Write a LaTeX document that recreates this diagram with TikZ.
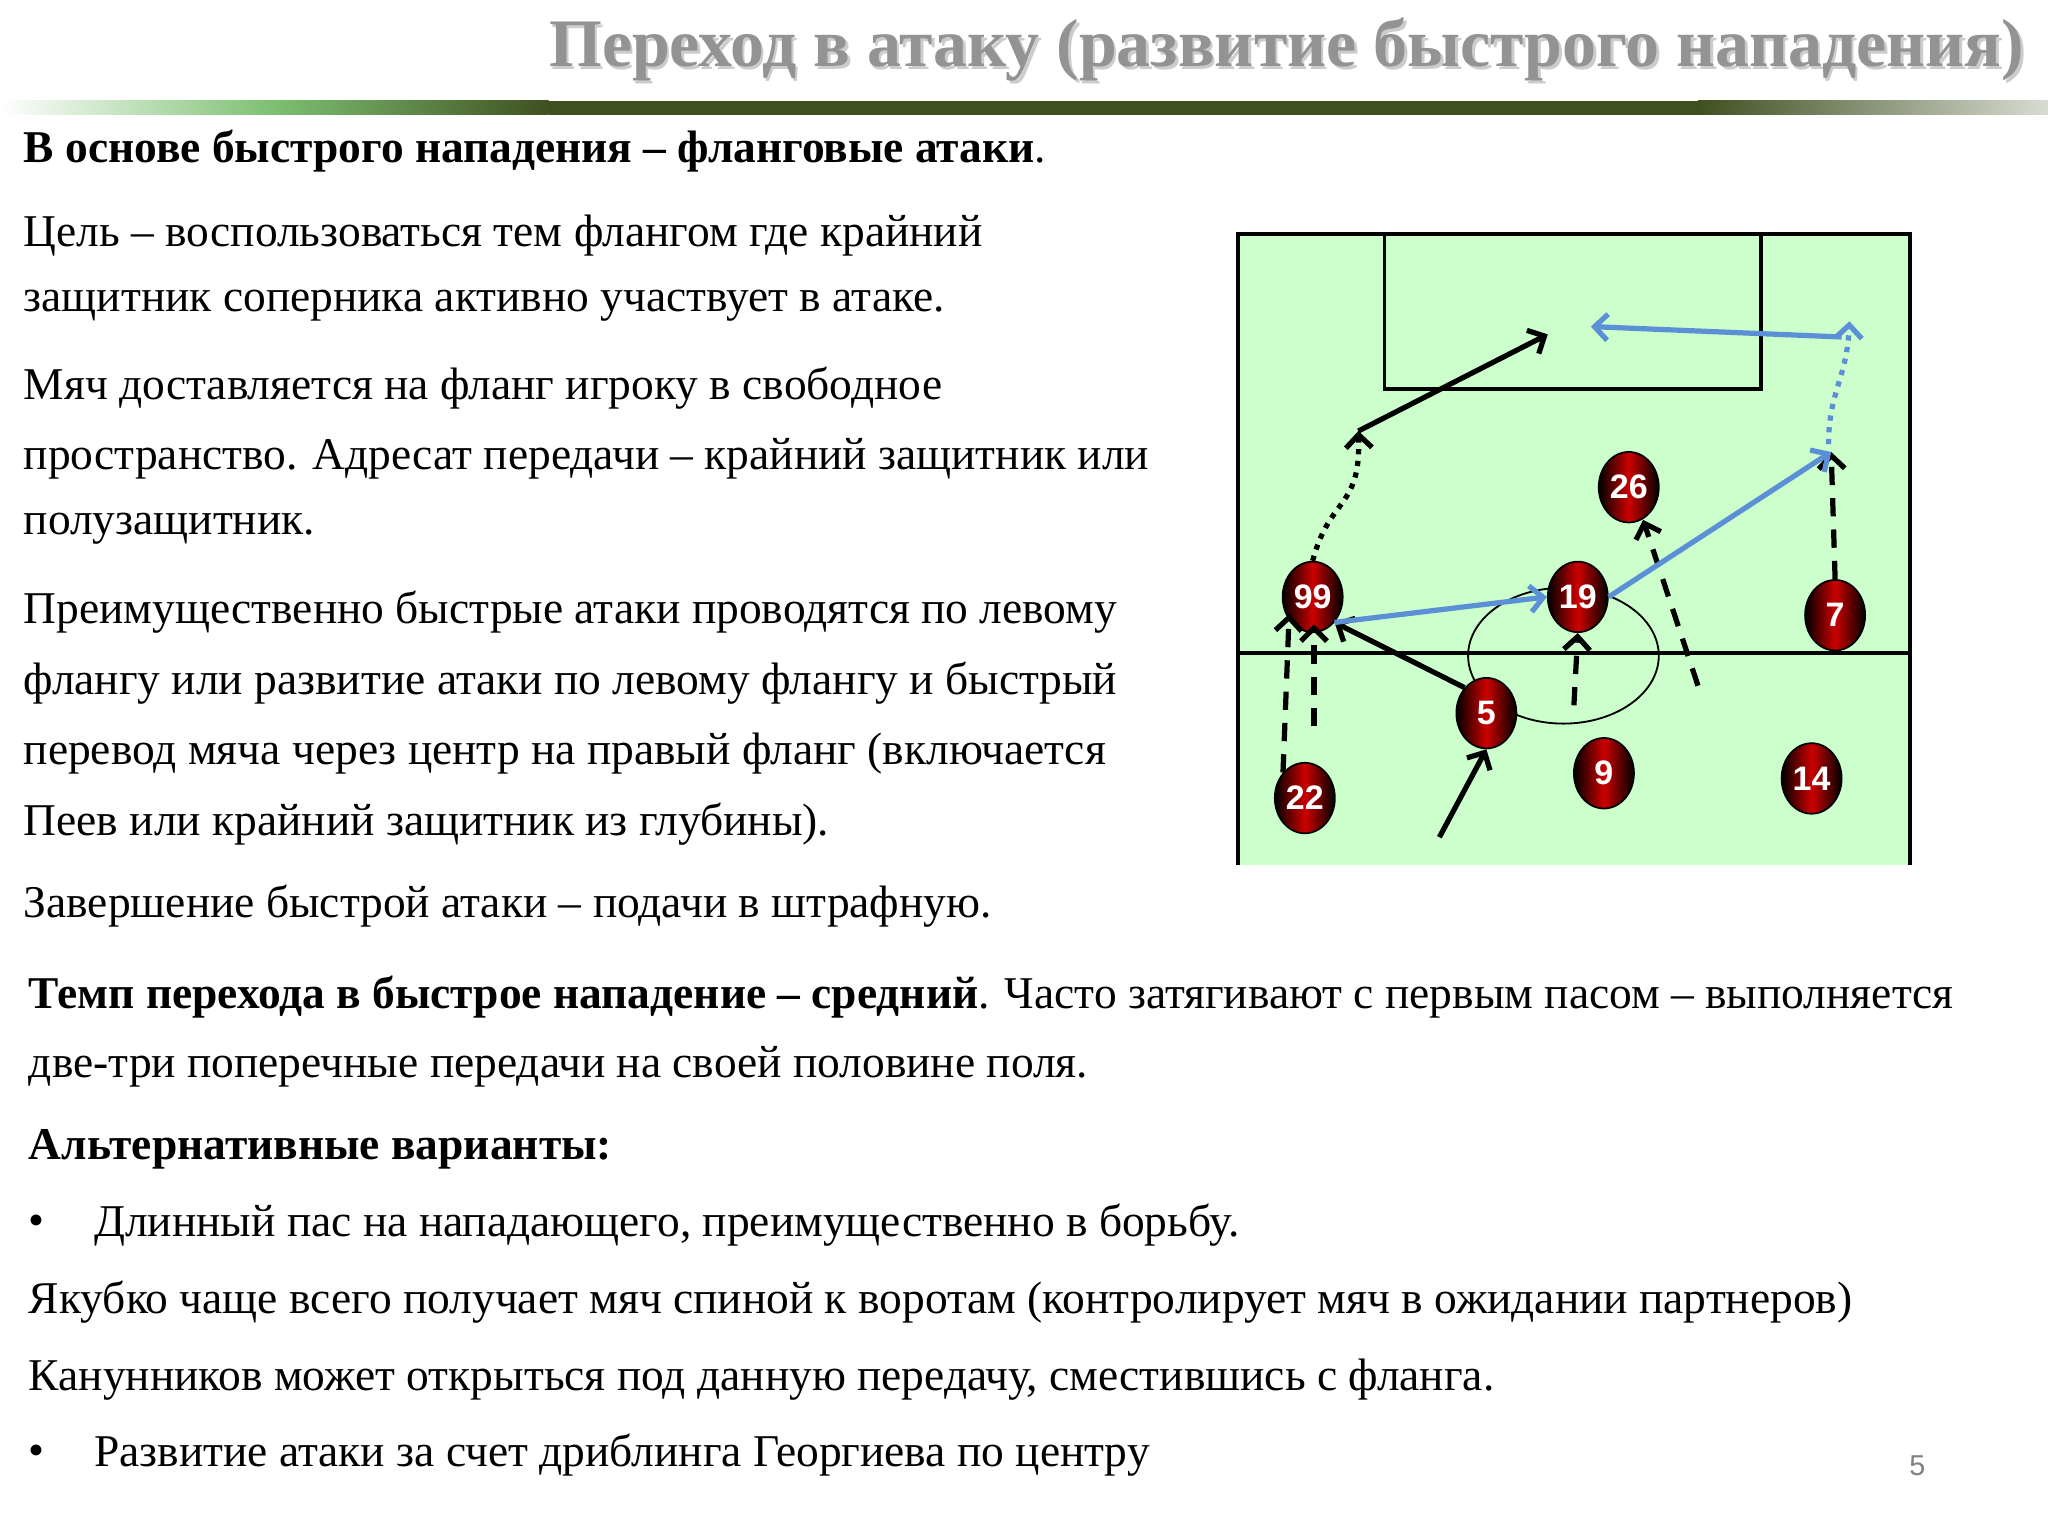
\documentclass[tikz,border=0pt]{standalone}
\usepackage{fontspec}
\setmainfont{Liberation Serif}
\newfontfamily\numfont{Liberation Sans}
\usetikzlibrary{arrows.meta,shapes.geometric}
\definecolor{fieldg}{HTML}{CCFFCC}
\definecolor{bluea}{HTML}{5B8FD6}
\definecolor{olive}{HTML}{3F5020}
\tikzset{
 tx/.style={anchor=west,inner sep=0pt,font=\fontsize{34.8}{35}\selectfont},
 pl/.style={ellipse,draw=black,line width=1.3pt,minimum width=46pt,minimum height=54pt,inner sep=0pt,
   left color=black,right color=black,middle color=red!80!black,text=white,font=\numfont\bfseries\fontsize{26}{26}\selectfont},
 tip/.style={-{Straight Barb[length=10pt,width=20pt,line width=4pt]}},
 bl/.style={black,line width=4pt,tip},
 blu/.style={bluea,line width=4pt,tip},
 dsh/.style={dash pattern=on 14pt off 10pt},
 dtt/.style={dash pattern=on 4pt off 5pt},
}
\begin{document}
\begin{tikzpicture}[x=1pt,y=-1pt]
\useasboundingbox[fill=white] (0,0) rectangle (1568,1176);
% title
\shade[left color=white,right color=olive,middle color=olive!60!green!60] (0,77) rectangle (420,88);
\fill[olive] (420,77) rectangle (1300,88);
\shade[left color=olive,right color=olive!20] (1300,77) rectangle (1568,88);
\node[anchor=east,inner sep=0pt,text=gray!40,font=\bfseries\fontsize{52}{52}\selectfont] at (1552,40) {Переход в атаку (развитие быстрого нападения)};
\node[anchor=east,inner sep=0pt,text=gray!85,font=\bfseries\fontsize{52}{52}\selectfont] (title) at (1550,38) {Переход в атаку (развитие быстрого нападения)};
% text
\node[tx] (t1) at (18,116) {\textbf{В основе быстрого нападения – фланговые атаки}.};
\node[tx] (t2) at (18,180) {Цель – воспользоваться тем флангом где крайний};
\node[tx] (t3) at (18,234) {защитник соперника активно участвует в атаке.};
\node[tx] (t4) at (18,297) {Мяч доставляется на фланг игроку в свободное};
\node[tx] (t5) at (18,351) {пространство. Адресат передачи – крайний защитник или};
\node[tx] (t6) at (18,405) {полузащитник.};
\node[tx] (t7) at (18,469) {Преимущественно быстрые атаки проводятся по левому};
\node[tx] (t8) at (18,523) {флангу или развитие атаки по левому флангу и быстрый};
\node[tx] (t9) at (18,577) {перевод мяча через центр на правый фланг (включается};
\node[tx] (t10) at (18,631) {Пеев или крайний защитник из глубины).};
\node[tx] (t11) at (18,694) {Завершение быстрой атаки – подачи в штрафную.};
\node[tx] (t12) at (22,763) {\textbf{Темп перехода в быстрое нападение – средний}. Часто затягивают с первым пасом – выполняется};
\node[tx] (t13) at (22,817) {две-три поперечные передачи на своей половине поля.};
\node[tx] (t14) at (22,880) {\textbf{Альтернативные варианты:}};
\node[tx] (b1) at (22,938) {•};
\node[tx] (t15) at (72,938) {Длинный пас на нападающего, преимущественно в борьбу.};
\node[tx] (t16) at (22,997) {Якубко чаще всего получает мяч спиной к воротам (контролирует мяч в ожидании партнеров)};
\node[tx] (t17) at (22,1056) {Канунников может открыться под данную передачу, сместившись с фланга.};
\node[tx] (b2) at (22,1114) {•};
\node[tx] (t18) at (72,1114) {Развитие атаки за счет дриблинга Георгиева по центру};
\node[inner sep=0pt,text=gray,font=\numfont\fontsize{22}{22}\selectfont] (pg) at (1468,1122) {5};
% field
\fill[fieldg] (948,179) rectangle (1462,662);
\draw[line width=3pt] (948,662) -- (948,179) -- (1462,179) -- (1462,662);
\draw[line width=3pt] (1060,179) rectangle (1348,298);
\draw[line width=3pt] (948,500) -- (1462,500);
\draw[line width=1.4pt] (1197,502) ellipse [x radius=73, y radius=52];
% players
\node[pl] (p99) at (1005,457) {99};
\node[pl] (p19) at (1208,457) {19};
\node[pl] (p26) at (1247,373) {26};
\node[pl] (p7) at (1405,471) {7};
\node[pl] (p5) at (1138,546) {5};
\node[pl] (p22) at (999,611) {22};
\node[pl] (p9) at (1228,592) {9};
\node[pl] (p14) at (1387,596) {14};
% arrows
\coordinate (a0) at (1102,641);
\draw[bl] (a0) -- (p5.south);
\draw[bl] (p5.north west) -- (p99.south east);
\coordinate (c1) at (1040,330); \coordinate (c2) at (1185,256);
\draw[bl] (c1) -- (c2);
\draw[bl,dtt] (p99.north) .. controls (1018,380) and (1042,390) .. (c1);
\coordinate (d1) at (987,470); \coordinate (d2) at (1006,556); \coordinate (d3) at (1006,478);
\draw[bl,dsh] (p22.north west) -- (d1);
\draw[bl,dsh] (d2) -- (d3);
\coordinate (e1) at (1205,540);
\draw[bl,dsh] (e1) -- (p19.south);
\coordinate (f1) at (1300,525); \coordinate (f2) at (1258,398);
\draw[bl,dsh] (f1) -- (f2);
\coordinate (g1) at (1402,346);
\draw[bl,dsh] (p7.north) -- (g1);
\draw[blu] (p99.south east) -- (p19.west);
\draw[blu] (p19.east) -- (g1);
\coordinate (h1) at (1410,258); \coordinate (h2) at (1218,250);
\draw[blu] (h1) -- (h2);
\draw[blu,dtt] (1400,340) .. controls (1400,300) and (1414,290) .. (1416,246);
\end{tikzpicture}
\end{document}
